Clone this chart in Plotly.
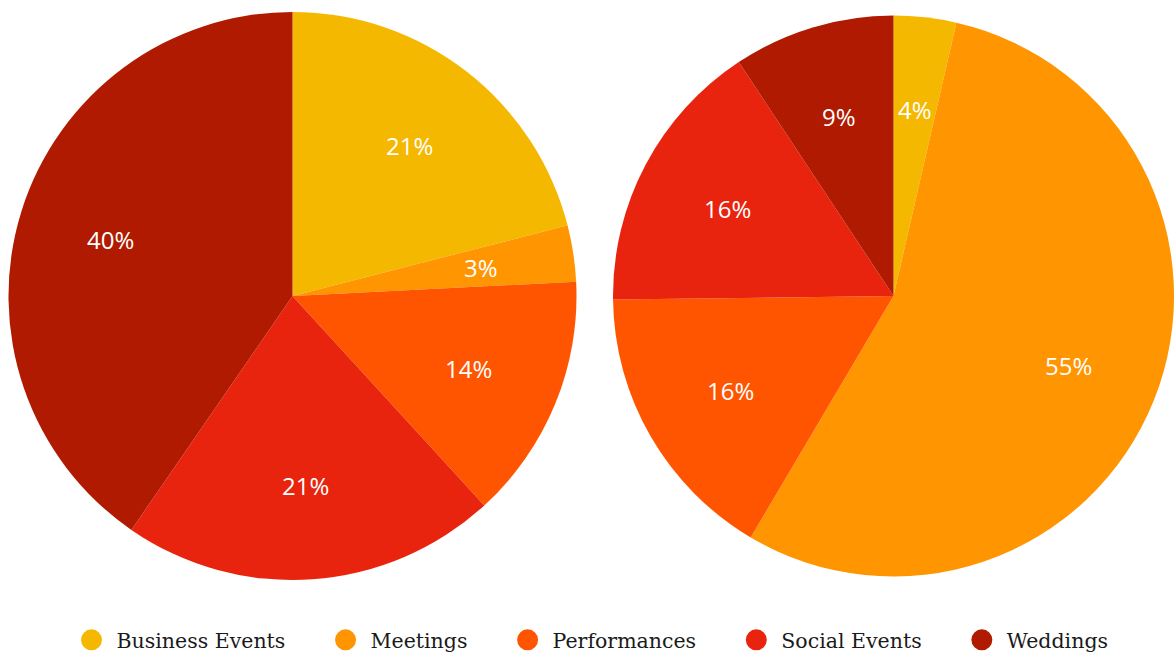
import math
import plotly.graph_objects as go

categories = ["Business Events", "Meetings", "Performances", "Social Events", "Weddings"]
left_values = [21.0, 3.2, 14.0, 21.4, 40.4]
right_values = [3.6, 54.9, 16.3, 15.9, 9.3]
colors = ["#F5B800", "#FF9500", "#FF5500", "#E8230E", "#B01A00"]

W, H = 1174, 655
LABEL_R = 0.67  # label distance as a fraction of the pie radius

fig = go.Figure()
annotations = []

def add_pie(values, x0, x1, y0, y1):
    fig.add_trace(go.Pie(
        labels=categories,
        values=values,
        sort=False,
        direction="clockwise",
        rotation=0,
        marker=dict(colors=colors, line=dict(width=0)),
        textinfo="none",
        hoverinfo="label+percent",
        showlegend=False,
        domain=dict(x=[x0 / W, x1 / W], y=[(H - y1) / H, (H - y0) / H]),
    ))
    # percentage labels placed at a fixed fraction of the radius
    cx, cy = (x0 + x1) / 2, (y0 + y1) / 2
    r = min(x1 - x0, y1 - y0) / 2
    total = sum(values)
    cum = 0.0
    for v in values:
        mid = (cum + v / 2) / total * 2 * math.pi
        cum += v
        px = cx + LABEL_R * r * math.sin(mid)
        py = cy - LABEL_R * r * math.cos(mid)
        annotations.append(dict(
            x=px / W, y=(H - py) / H, xref="paper", yref="paper",
            text=f"{round(v / total * 100)}%", showarrow=False,
            xanchor="center", yanchor="middle",
            font=dict(family="Open Sans", size=24, color="white"),
        ))

add_pie(left_values, 8, 577, 12, 580)
add_pie(right_values, 613, W, 12, 580)

# legend entries with circular markers
pad = "\u00a0\u00a0\u00a0\u00a0\u2009"
for i, (name, c) in enumerate(zip(categories, colors)):
    fig.add_trace(go.Scatter(
        x=[None], y=[None], mode="markers",
        name=name + (pad if i < len(categories) - 1 else ""),
        marker=dict(symbol="circle", size=16, color=c, line=dict(width=5, color=c)),
        showlegend=True,
    ))

fig.update_layout(
    width=W, height=H,
    margin=dict(l=0, r=0, t=0, b=0, autoexpand=False),
    paper_bgcolor="white",
    plot_bgcolor="white",
    xaxis=dict(visible=False),
    yaxis=dict(visible=False),
    annotations=annotations,
    legend=dict(
        orientation="h",
        x=0.5 + 3 / W, xanchor="center",
        y=-5 / H, yanchor="bottom",
        font=dict(family="DejaVu Serif", size=20.5, color="#1a1a1a"),
        itemwidth=40,
        traceorder="normal",
    ),
)

fig.write_html("out.html")
